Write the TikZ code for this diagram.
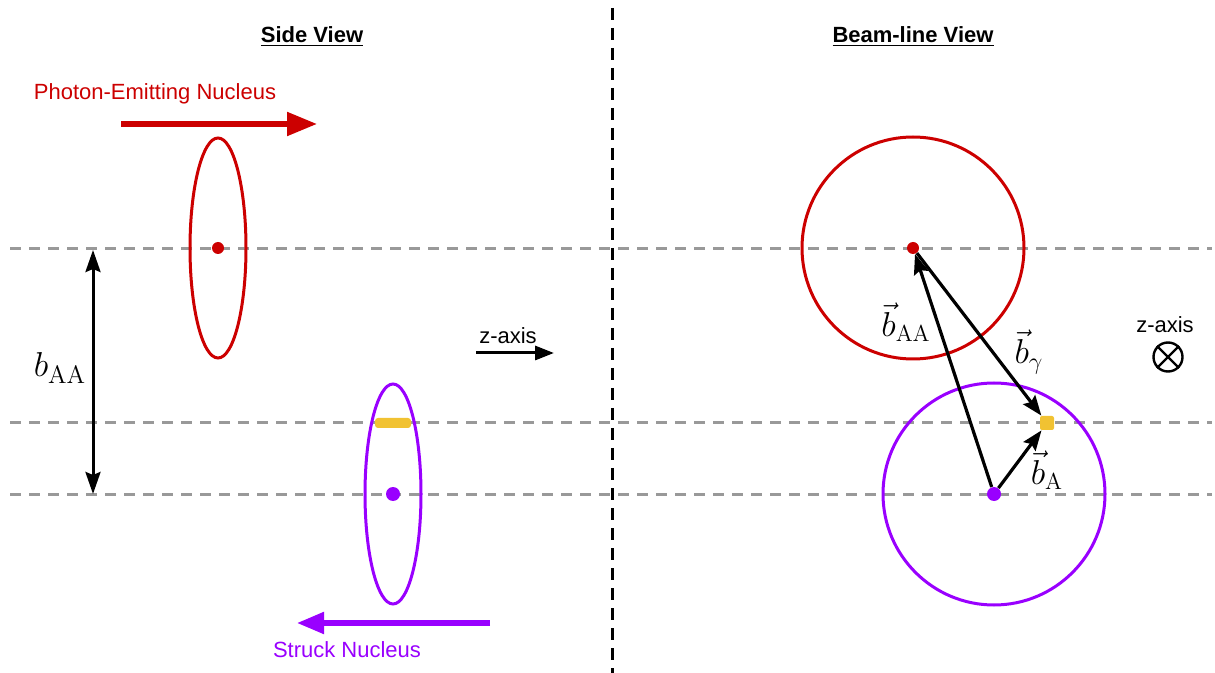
\documentclass[tikz,border=0pt]{standalone}
\usepackage{fontspec}
\setsansfont{Liberation Sans}
\usetikzlibrary{arrows.meta}
\definecolor{nred}{HTML}{CC0000}
\definecolor{npurp}{HTML}{9900FF}
\definecolor{norange}{HTML}{F1C232}
\definecolor{dgray}{HTML}{999999}
\begin{document}
\begin{tikzpicture}[x=0.5pt,y=-0.5pt,
  lbl/.style={font=\sffamily\fontsize{11}{13}\selectfont, inner sep=0pt},
  guide/.style={dgray, line width=1.5pt, dash pattern=on 5.5pt off 4pt},
  dot/.style={circle, inner sep=0pt, minimum size=6pt},
  vecarrow/.style={-{Stealth[length=10pt,width=7.5pt,inset=1.5pt]}, line width=1.6pt},
  mlbl/.style={font=\fontsize{16.5}{19}\selectfont, inner sep=0pt},
  nucleus/.style={line width=1.5pt},
  beam/.style={line width=2.6pt}
]
\useasboundingbox (0,0) rectangle (1215,673);

% divider
\coordinate (dtop) at (612,8);
\coordinate (dbot) at (612,673);
\draw[line width=1.5pt, dash pattern=on 6pt off 4pt] (dtop) -- (dbot);

% guide lines
\coordinate (g1l) at (10,249); \coordinate (g1r) at (1212,249);
\coordinate (g2l) at (10,423); \coordinate (g2r) at (1212,423);
\coordinate (g3l) at (10,494); \coordinate (g3r) at (1212,494);
\draw[guide] (g1l) -- (g1r);
\draw[guide] (g2l) -- (g2r);
\draw[guide] (g3l) -- (g3r);

% titles
\node[lbl, font=\sffamily\bfseries\fontsize{11}{13}\selectfont] (t1) at (312,37) {\underline{Side View}};
\node[lbl, font=\sffamily\bfseries\fontsize{11}{13}\selectfont] (t2) at (913,37) {\underline{Beam-line View}};

% side view: photon-emitting nucleus
\node[lbl, text=nred] (pen) at (155,94) {Photon-Emitting Nucleus};
\coordinate (ra1) at (121,124); \coordinate (ra2) at (317,124);
\draw[beam, nred, -{Triangle[length=15pt,width=11.5pt]}] (ra1) -- (ra2);
\draw[nucleus, nred] (218,248) ellipse [x radius=14pt, y radius=55pt];
\node[dot, fill=nred] (rd1) at (218,248) {};

% side view: struck nucleus
\draw[nucleus, npurp] (393,494) ellipse [x radius=14pt, y radius=55pt];
\node[dot, fill=npurp, minimum size=7pt] (pd1) at (393,494) {};
\node[rectangle, fill=norange, minimum width=18pt, minimum height=5pt, inner sep=0pt, rounded corners=1.5pt] (ob1) at (393,423) {};
\coordinate (pa1) at (490,623); \coordinate (pa2) at (297,623);
\draw[beam, npurp, -{Triangle[length=13.5pt,width=10.5pt]}] (pa1) -- (pa2);
\node[lbl, text=npurp] (sn) at (347,650) {Struck Nucleus};

% b_AA double arrow
\coordinate (ba1) at (93,250); \coordinate (ba2) at (93,494);
\draw[line width=1.5pt, {Stealth[length=11pt,width=7.5pt,inset=1.5pt]}-{Stealth[length=11pt,width=7.5pt,inset=1.5pt]}] (ba1) -- (ba2);
\node[font=\fontsize{18}{21}\selectfont, inner sep=0pt] (bl) at (60,368) {$b_{\mathrm{AA}}$};

% z-axis (side)
\node[lbl] (za) at (508,336) {z-axis};
\coordinate (z1) at (476,353); \coordinate (z2) at (554,353);
\draw[line width=1.5pt, -{Triangle[length=9.5pt,width=7pt]}] (z1) -- (z2);

% beam-line view
\draw[nucleus, nred] (913,248) circle [radius=55.5pt];
\draw[nucleus, npurp] (994,494) circle [radius=55.5pt];
\node[dot, fill=nred] (rd2) at (913,248) {};
\node[dot, fill=npurp, minimum size=7pt] (pd2) at (994,494) {};
\node[rectangle, fill=norange, minimum size=7pt, inner sep=0pt, rounded corners=1pt] (ob2) at (1047,423) {};
\draw[vecarrow] (pd2) -- (rd2);
\draw[vecarrow] (rd2) -- (ob2);
\draw[vecarrow] (pd2) -- (ob2);
\node[mlbl] (lbaa) at (906,322) {$\vec{b}_{\mathrm{AA}}$};
\node[mlbl] (lbg) at (1029,352) {$\vec{b}_{\gamma}$};
\node[mlbl] (lba) at (1047,470) {$\vec{b}_{\mathrm{A}}$};

% z-axis (beam-line)
\node[lbl] (zb) at (1165,325) {z-axis};
\node[circle, draw, line width=1.2pt, minimum size=14.5pt, inner sep=0pt] (ox) at (1168,357) {};
\draw[line width=1.2pt] (ox.north east) -- (ox.south west);
\draw[line width=1.2pt] (ox.north west) -- (ox.south east);
\end{tikzpicture}
\end{document}
